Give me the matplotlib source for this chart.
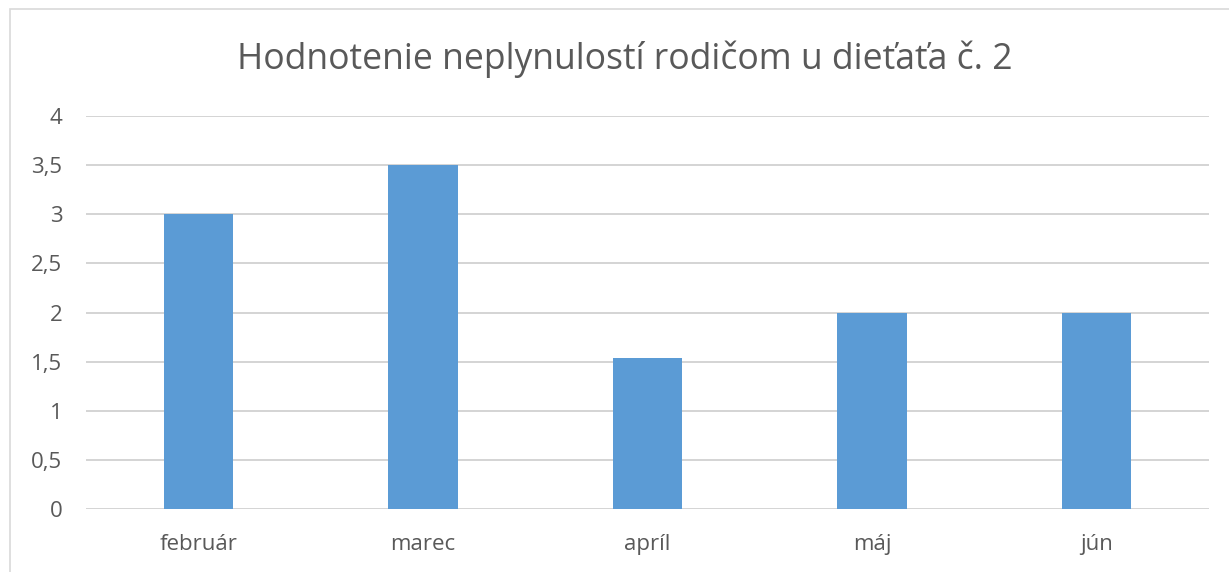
import numpy as np
import matplotlib.pyplot as plt
from matplotlib.patches import Rectangle

months = ["február", "marec", "apríl", "máj", "jún"]
values = [3, 3.5, 1.54, 2, 2]
yticks = [0, 0.5, 1, 1.5, 2, 2.5, 3, 3.5, 4]
ytick_labels = ["0", "0,5", "1", "1,5", "2", "2,5", "3", "3,5", "4"]

plt.rcParams['font.family'] = ['Open Sans', 'DejaVu Sans']

fig = plt.figure(figsize=(12.29, 5.72), dpi=100)
ax = fig.add_axes([0.070, 0.110, 0.9137, 0.687])

x = np.arange(len(months))
ax.bar(x, values, width=0.31, color="#5B9BD5", zorder=3)

ax.set_xlim(-0.5, len(months) - 0.5)
ax.set_ylim(0, 4)
ax.set_yticks(yticks)
ax.set_yticklabels(ytick_labels)
ax.set_xticks(x)
ax.set_xticklabels(months)
ax.tick_params(axis='both', length=0, labelsize=16, labelcolor="#595959")
ax.tick_params(axis='y', pad=17)
ax.tick_params(axis='x', pad=18)
ax.grid(axis='y', color="#d4d4d4", linewidth=1.4, zorder=0)
for s in ax.spines.values():
    s.set_visible(False)

fig.text(0.508, 0.897, "Hodnotenie neplynulostí rodičom u dieťaťa č. 2",
         ha='center', va='center', fontsize=25.6, color="#595959")

# chart frame
fig.patches.append(Rectangle((10 / 1229, -0.1), 1.2, 1 - 9 / 572 + 0.1,
                             transform=fig.transFigure, fill=False,
                             edgecolor="#d9d9d9", linewidth=1.2))

fig.savefig("out.png", dpi=100)
